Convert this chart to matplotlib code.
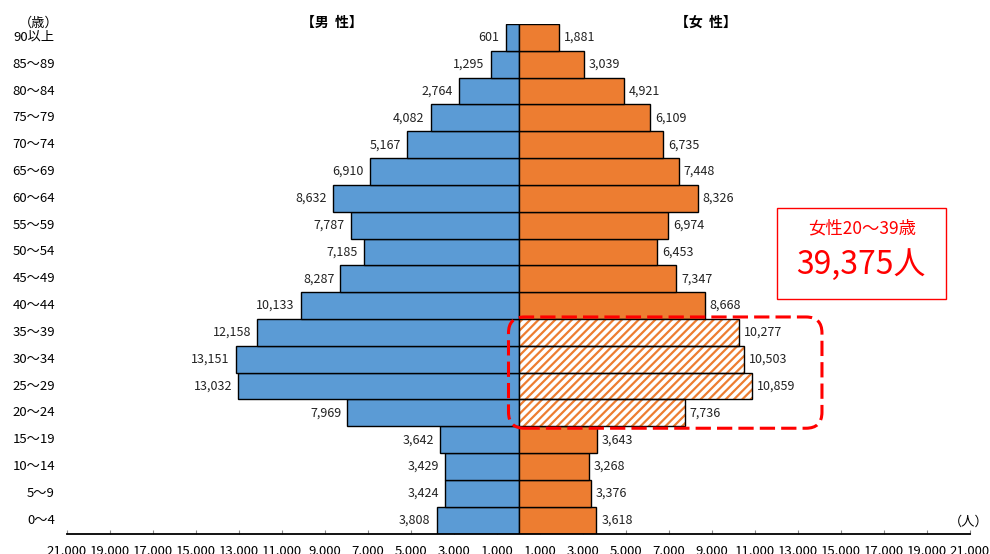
import numpy as np
import matplotlib
matplotlib.use("Agg")
import matplotlib.pyplot as plt
from matplotlib.patches import Rectangle, FancyBboxPatch
from matplotlib.transforms import blended_transform_factory

plt.rcParams['font.family'] = ['Noto Sans CJK JP', 'DejaVu Sans']
plt.rcParams['hatch.linewidth'] = 1.6

# age groups, bottom to top
ages = ['0～4', '5～9', '10～14', '15～19', '20～24', '25～29', '30～34', '35～39',
        '40～44', '45～49', '50～54', '55～59', '60～64', '65～69', '70～74',
        '75～79', '80～84', '85～89', '90以上']
male = [3808, 3424, 3429, 3642, 7969, 13032, 13151, 12158, 10133, 8287,
        7185, 7787, 8632, 6910, 5167, 4082, 2764, 1295, 601]
female = [3618, 3376, 3268, 3643, 7736, 10859, 10503, 10277, 8668, 7347,
          6453, 6974, 8326, 7448, 6735, 6109, 4921, 3039, 1881]
highlight = ['20～24', '25～29', '30～34', '35～39']
tick_vals = [1000, 3000, 5000, 7000, 9000, 11000, 13000, 15000, 17000, 19000, 21000]

blue = '#5B9BD5'
orange = '#ED7D31'

y = np.arange(len(ages))
male = np.array(male)
female = np.array(female)
hl = np.array([a in highlight for a in ages])

fig = plt.figure(figsize=(9.9, 5.54), dpi=100)
ax = fig.add_axes([67 / 990, (554 - 533.5) / 554, (970 - 67) / 990, (533.5 - 24) / 554])
ax.set_xlim(-21000, 21000)
ax.set_ylim(-0.5, len(ages) - 0.5)

ax.barh(y, -male, height=1.0, color=blue, edgecolor='black', linewidth=1.0, zorder=2)
ax.barh(y[~hl], female[~hl], height=1.0, color=orange, edgecolor='black', linewidth=1.0, zorder=2)
ax.barh(y[hl], female[hl], height=1.0, color='white', edgecolor=orange, hatch='////',
        linewidth=0, zorder=2)
ax.barh(y[hl], female[hl], height=1.0, color='none', edgecolor='black', linewidth=1.0, zorder=3)

for i in range(len(ages)):
    ax.text(-male[i] - 280, y[i], f"{male[i]:,}", ha='right', va='center', fontsize=9, color='#222222')
    ax.text(female[i] + 230, y[i], f"{female[i]:,}", ha='left', va='center', fontsize=9, color='#222222')

# age labels on the left
tr = blended_transform_factory(fig.transFigure, ax.transData)
for i, a in enumerate(ages):
    ax.text(55 / 990, y[i], a, transform=tr, ha='right', va='center', fontsize=9.5)

# axes styling
for s in ['top', 'left', 'right']:
    ax.spines[s].set_visible(False)
ax.spines['bottom'].set_linewidth(1.3)
ax.set_yticks([])
ticks = [-t for t in tick_vals[::-1]] + tick_vals
ax.set_xticks(ticks)
ax.set_xticklabels([f"{abs(t):,}" for t in ticks], fontsize=9.5)
ax.tick_params(axis='x', direction='in', length=3, width=0.8, pad=8, color='#888888')

fig.text(39 / 990, 1 - 23 / 554, '（歳）', ha='center', va='center', fontsize=9.5)
fig.text(332 / 990, 1 - 23 / 554, '【男  性】', ha='center', va='center', fontsize=10, fontweight='bold')
fig.text(706 / 990, 1 - 23 / 554, '【女  性】', ha='center', va='center', fontsize=10, fontweight='bold')
fig.text(969 / 990, 1 - 522 / 554, '（人）', ha='center', va='center', fontsize=9.5)

# dashed highlight around the 20-39 female bars
x_per_px = 42000 / 903
y_per_px = len(ages) / 509.5
hy = y[hl]
box = FancyBboxPatch((-10 * x_per_px, hy.min() - 0.5 - 2 * y_per_px),
                     female[hl].max() + 80 * x_per_px, hy.max() - hy.min() + 1 + 4 * y_per_px,
                     boxstyle=f"round,pad=0,rounding_size={16 * x_per_px}",
                     mutation_aspect=y_per_px / x_per_px,
                     facecolor='none', edgecolor='#FF0000', linewidth=2.2,
                     linestyle=(0, (5, 2)), zorder=4, clip_on=False)
ax.add_patch(box)

# summary box
fig.patches.append(Rectangle((777 / 990, 1 - 299 / 554), 169 / 990, 91 / 554,
                             transform=fig.transFigure, facecolor='white',
                             edgecolor='#FF0000', linewidth=1.0))
total = int(female[hl].sum())
fig.text(862 / 990, 1 - 228 / 554, '女性20～39歳', ha='center', va='center',
         fontsize=12.5, color='#FF0000')
fig.text(861 / 990, 1 - 265 / 554, f"{total:,}人", ha='center', va='center',
         fontsize=23, color='#FF0000')

fig.savefig('out.png', dpi=100)
